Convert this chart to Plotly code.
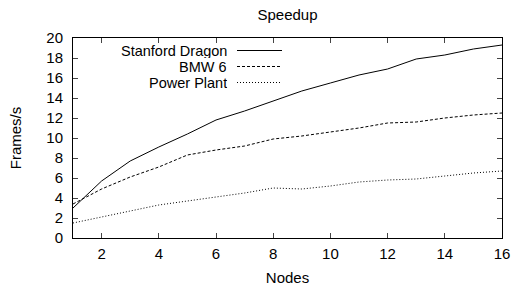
import plotly.graph_objects as go

nodes = list(range(1, 17))
dragon = [3.0, 5.7, 7.7, 9.1, 10.4, 11.8, 12.7, 13.7, 14.7, 15.5, 16.3, 16.9, 17.9, 18.3, 18.9, 19.3]
bmw = [3.4, 4.9, 6.1, 7.1, 8.3, 8.8, 9.2, 9.9, 10.2, 10.6, 11.0, 11.5, 11.6, 12.0, 12.3, 12.5]
power = [1.5, 2.1, 2.7, 3.3, 3.7, 4.1, 4.5, 5.0, 4.9, 5.2, 5.6, 5.8, 5.9, 6.2, 6.5, 6.7]
series_names = ["Stanford Dragon", "BMW 6", "Power Plant"]
x_ticks = [2, 4, 6, 8, 10, 12, 14, 16]
y_ticks = list(range(0, 21, 2))

FONT = "Liberation Sans, Arial, Helvetica, sans-serif"
dashes = ["solid", "3px,2px", "1px,2px"]

fig = go.Figure()
for name, vals, d in zip(series_names, [dragon, bmw, power], dashes):
    fig.add_trace(go.Scatter(x=nodes, y=vals, mode="lines", name=name,
                             line=dict(color="black", width=1, dash=d),
                             showlegend=False))

# gnuplot-style key: right-aligned text with sample line on the right
W, H = 513, 289
ml, mr, mt, mb = 73, 11, 38, 51
pw, ph = W - ml - mr, H - mt - mb
row_y = [50.5, 66.5, 82.5]
for name, d, yy in zip(series_names, dashes, row_y):
    yp = 1 - (yy - mt) / ph
    fig.add_annotation(x=(228 - ml) / pw, y=yp, xref="paper", yref="paper",
                       text=name, showarrow=False, xanchor="right", yanchor="middle",
                       height=14, borderpad=0,
                       font=dict(size=14.5, color="black", family=FONT))
    fig.add_shape(type="line", xref="paper", yref="paper",
                  x0=(237 - ml) / pw, x1=(282 - ml) / pw, y0=yp, y1=yp,
                  line=dict(color="black", width=1, dash=d))

fig.update_layout(
    width=W, height=H,
    margin=dict(l=ml, r=mr, t=mt, b=mb, autoexpand=False),
    paper_bgcolor="white", plot_bgcolor="white",
    font=dict(family=FONT, size=15, color="black"),
    title=dict(text="Speedup", x=(ml + pw / 2) / W, xanchor="center",
               y=1 - 15 / H, yanchor="middle", font=dict(size=15)),
)
fig.update_xaxes(range=[1, 16], tickvals=x_ticks, ticks="inside", ticklen=5,
                 showline=True, linecolor="black", linewidth=1, mirror="allticks",
                 showgrid=False, zeroline=False, automargin=False,
                 title=dict(text="Nodes", standoff=11, font=dict(size=15)),
                 tickfont=dict(size=15), ticklabelstandoff=2)
fig.update_yaxes(range=[0, 20], tickvals=y_ticks, ticks="inside", ticklen=5,
                 showline=True, linecolor="black", linewidth=1, mirror="allticks",
                 showgrid=False, zeroline=False, automargin=False,
                 title=dict(text="Frames/s", standoff=21, font=dict(size=15)),
                 tickfont=dict(size=15), ticklabelstandoff=6)

fig.write_html("out.html", config={"displayModeBar": False},
               post_script="document.body.style.margin='0';")
